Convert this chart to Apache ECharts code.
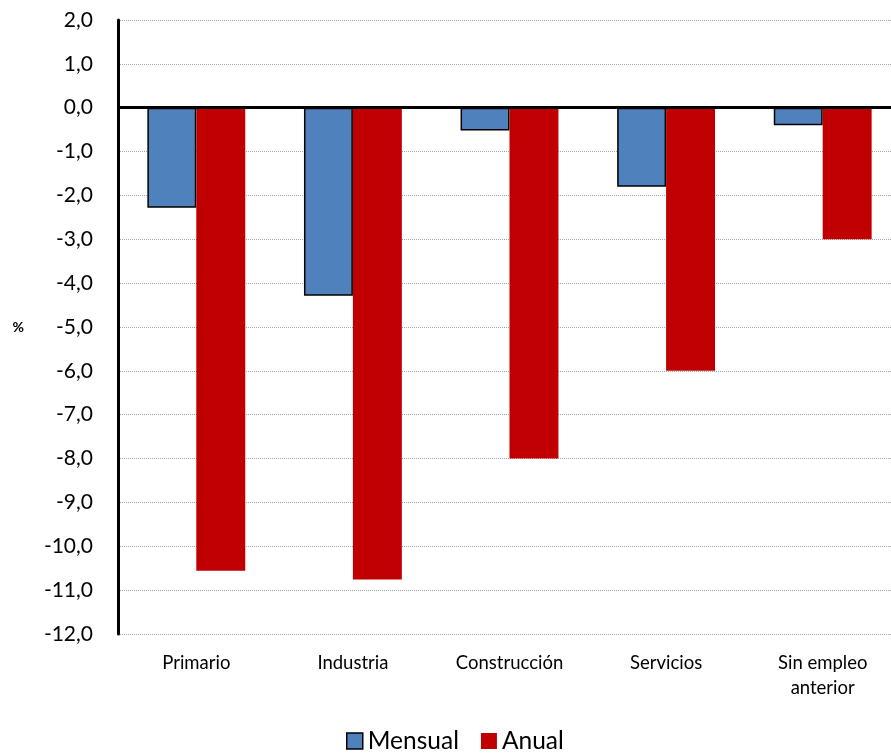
<!DOCTYPE html>
<html><head><meta charset="utf-8">
<script src="https://cdn.jsdelivr.net/npm/echarts@6/dist/echarts.min.js"></script>
<style>html,body{margin:0;padding:0;background:#fff}#c{width:891px;height:754px}</style>
</head><body><div id="c"></div>
<script>
const categories = ['Primario', 'Industria', 'Construcción', 'Servicios', 'Sin empleo\nanterior'];
const mensual = [-2.28, -4.29, -0.52, -1.80, -0.40];
const anual = [-10.56, -10.76, -8.0, -6.0, -3.0];
const FONT = 'Lato';
const chart = echarts.init(document.getElementById('c'));
chart.setOption({
  animation: false,
  textStyle: { fontFamily: FONT },
  grid: { left: 118, width: 783, top: 20, bottom: 120, containLabel: false, outerBoundsMode: 'none' },
  legend: {
    top: 728, left: 346, icon: 'rect', padding: 0,
    itemWidth: 16, itemHeight: 16, itemGap: 22,
    textStyle: { fontSize: 24.5, lineHeight: 26, fontFamily: FONT, color: '#000' },
    data: [
      { name: 'Mensual', itemStyle: { color: '#4f81bd', borderColor: '#000', borderWidth: 1.5 } },
      { name: 'Anual', itemStyle: { color: '#c00000' } }
    ]
  },
  xAxis: {
    type: 'category', data: categories,
    axisLine: { show: false, onZero: false },
    axisTick: { show: false },
    axisLabel: { fontSize: 18.5, color: '#000', margin: 17, lineHeight: 25, fontFamily: FONT }
  },
  yAxis: {
    type: 'value', min: -12, max: 2, interval: 1,
    name: '%', nameLocation: 'middle', nameRotate: 0, nameGap: 94,
    nameTextStyle: { fontSize: 14, fontWeight: 'bold', color: '#000', fontFamily: FONT },
    axisLine: { show: true, lineStyle: { color: '#000', width: 3 } },
    axisTick: { show: false },
    axisLabel: { fontSize: 21, color: '#000', margin: 25, fontFamily: FONT,
      formatter: v => v.toFixed(1).replace('.', ',') },
    splitLine: { show: true, lineStyle: { color: '#a6a6a6', type: 'dotted', width: 1 } }
  },
  series: [
    {
      name: 'Mensual', type: 'bar', data: mensual, barGap: '0%', barCategoryGap: '37.5%',
      itemStyle: { color: '#4f81bd', borderColor: '#000', borderWidth: 1.5 },
      markLine: {
        silent: true, symbol: 'none', label: { show: false },
        lineStyle: { color: '#000', width: 3, type: 'solid' },
        data: [{ yAxis: 0 }]
      }
    },
    {
      name: 'Anual', type: 'bar', data: anual, barGap: '0%', barCategoryGap: '37.5%',
      itemStyle: { color: '#c00000' }
    }
  ]
});
</script></body></html>
